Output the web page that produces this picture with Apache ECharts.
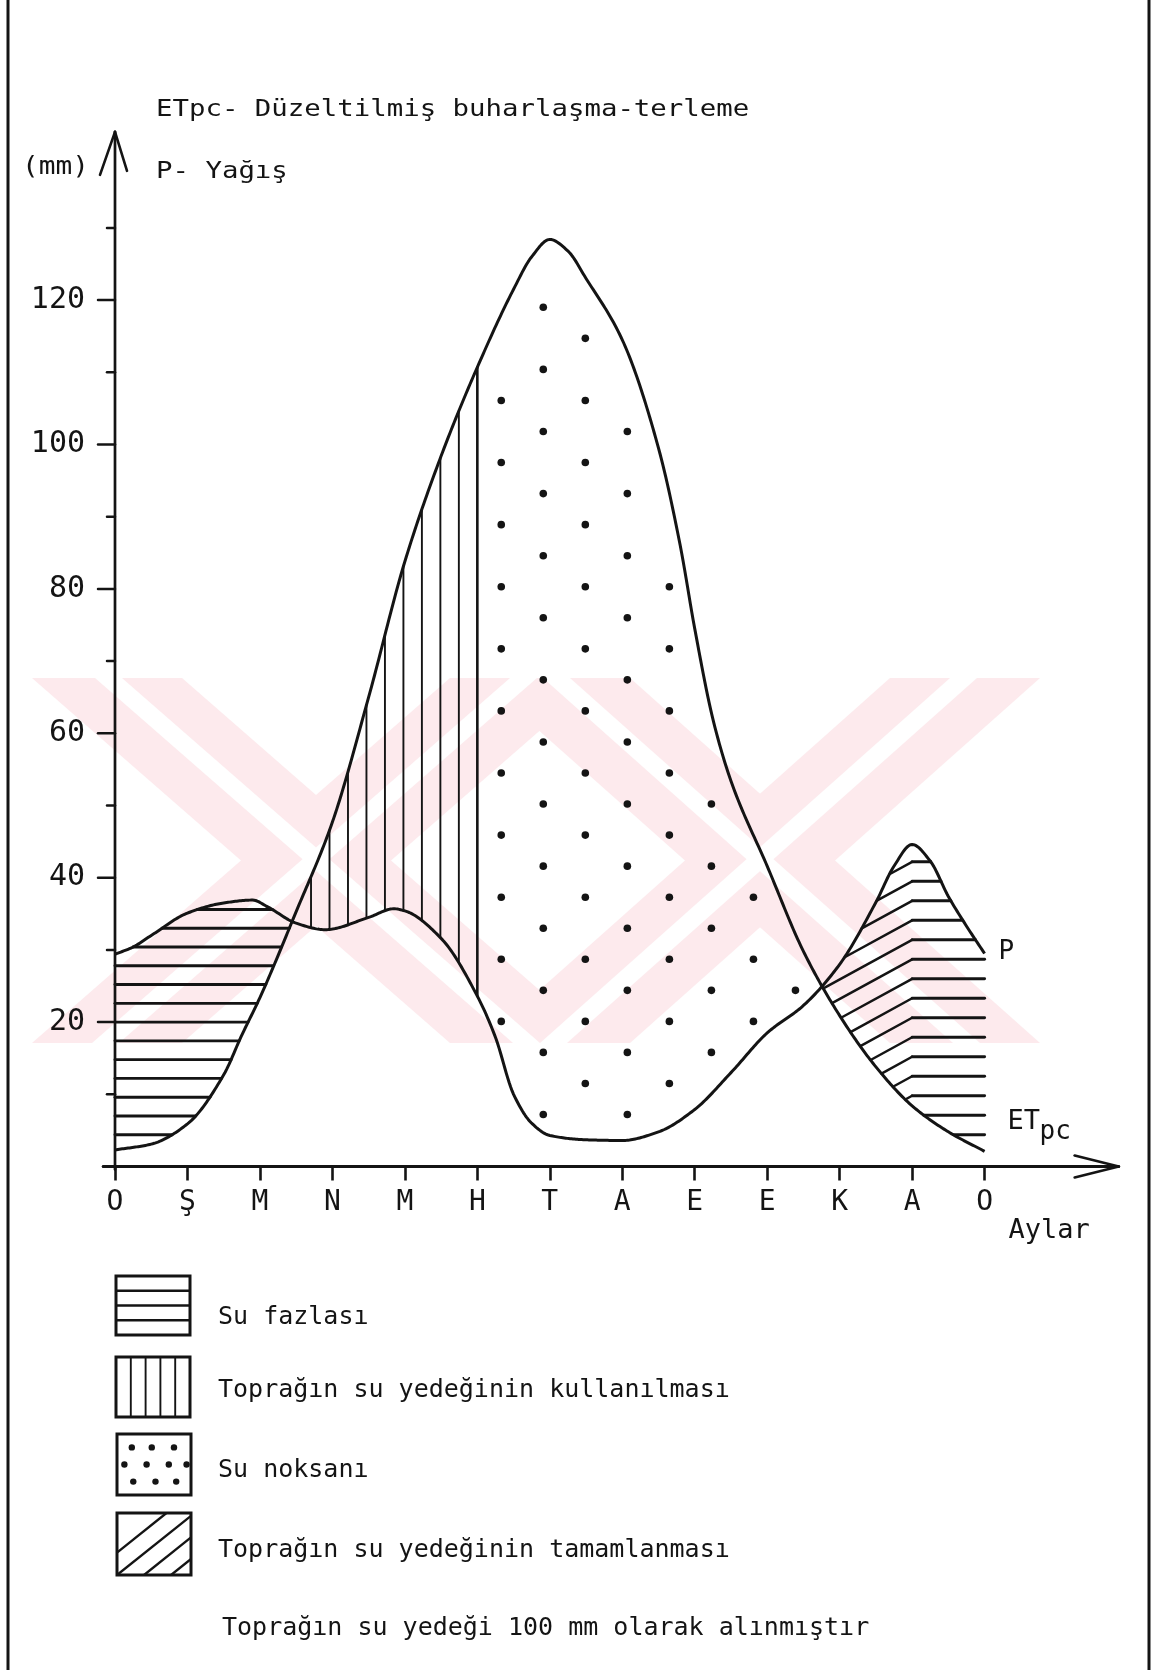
<!DOCTYPE html>
<html>
<head>
<meta charset="utf-8">
<script src="https://cdn.jsdelivr.net/npm/echarts@6/dist/echarts.min.js"></script>
<style>html,body{margin:0;padding:0;background:#fff}#c{width:1162px;height:1670px}</style>
</head>
<body>
<div id="c"></div>
<script>
// ---------------- DATA ----------------
const months = ['O','Ş','M','N','M','H','T','A','E','E','K','A','O'];
const yTickLabels = [20, 40, 60, 80, 100, 120];
// P - Yağış (precipitation), month position / mm
const pX = [0, 0.25, 0.5, 1, 1.5, 1.9, 2.1, 2.5, 2.9, 3.5, 3.85, 4, 4.5, 5, 5.25, 5.5, 5.75, 6, 6.5, 7, 7.5, 8, 8.5, 9, 9.5, 10, 10.5, 10.75, 11, 11.25, 11.5, 11.75, 12];
const pY = [29.4, 30.4, 32.0, 35.1, 36.5, 36.9, 36.0, 33.7, 32.8, 34.5, 35.7, 35.4, 31.6, 23.6, 17.9, 10.0, 6.0, 4.3, 3.7, 3.6, 4.8, 7.9, 13.0, 18.5, 22.3, 28.0, 36.6, 41.6, 44.6, 42.3, 37.4, 33.3, 29.5];
// ETpc - Düzeltilmiş buharlaşma-terleme
const eX = [0, 0.5, 1, 1.5, 1.75, 2, 2.5, 3, 3.5, 4, 4.5, 5, 5.5, 5.75, 6, 6.25, 6.5, 7, 7.5, 7.8, 8, 8.25, 8.5, 9, 9.5, 10, 10.5, 11, 11.5, 12];
const eY = [2.3, 3.1, 5.9, 12.7, 18.2, 23.4, 35.3, 47.7, 65.0, 83.8, 98.4, 110.7, 121.5, 126.0, 128.4, 126.8, 123.0, 114.5, 99.5, 86.0, 74.5, 62.0, 53.4, 41.6, 29.8, 20.9, 13.8, 8.4, 4.8, 2.1];
const legendItems = ['Su fazlası', 'Toprağın su yedeğinin kullanılması', 'Su noksanı', 'Toprağın su yedeğinin tamamlanması'];
const noteText = 'Toprağın su yedeği 100 mm olarak alınmıştır';

// ---------------- STYLE ----------------
const INK = '#141414';
const MONO = 'DejaVu Sans Mono';

// monotone cubic (rendering curve through the read points)
function monotone(xs, ys) {
  const n = xs.length, h = [], d = [], m = new Array(n);
  for (let i = 0; i < n - 1; i++) { h[i] = xs[i+1] - xs[i]; d[i] = (ys[i+1] - ys[i]) / h[i]; }
  m[0] = d[0]; m[n-1] = d[n-2];
  for (let i = 1; i < n - 1; i++) {
    if (d[i-1] * d[i] <= 0) m[i] = 0;
    else { const w1 = 2*h[i] + h[i-1], w2 = h[i] + 2*h[i-1]; m[i] = (w1 + w2) / (w1/d[i-1] + w2/d[i]); }
  }
  return function (x) {
    if (x <= xs[0]) return ys[0] + m[0]*(x - xs[0]);
    if (x >= xs[n-1]) return ys[n-1] + m[n-1]*(x - xs[n-1]);
    let i = 0; while (x > xs[i+1]) i++;
    const t = (x - xs[i]) / h[i], t2 = t*t, t3 = t2*t;
    return (2*t3 - 3*t2 + 1)*ys[i] + (t3 - 2*t2 + t)*h[i]*m[i] + (-2*t3 + 3*t2)*ys[i+1] + (t3 - t2)*h[i]*m[i+1];
  };
}
const P = monotone(pX, pY), E = monotone(eX, eY);
function bisect(f, a, b) {
  let fa = f(a);
  for (let i = 0; i < 60; i++) { const mm = (a + b)/2, fm = f(mm); if ((fm > 0) === (fa > 0)) { a = mm; fa = fm; } else b = mm; }
  return (a + b)/2;
}
const diff = x => P(x) - E(x);
const c1 = bisect(diff, 2.0, 3.0);
const c2 = bisect(diff, 9.0, 10.5);

function ranges(x0, x1, cond) {
  const out = []; let start = null; const step = 0.002; let x;
  for (x = x0; x <= x1 + 1e-9; x += step) {
    const ok = cond(x);
    if (ok && start === null) start = x;
    if (!ok && start !== null) { out.push([start, x - step]); start = null; }
  }
  if (start !== null) out.push([start, x1]);
  return out;
}

function renderAll(params, api) {
  const c = (x, y) => api.coord([x, y]);
  const kids = [];
  const line = (a, b, w) => kids.push({ type: 'line', shape: { x1: a[0], y1: a[1], x2: b[0], y2: b[1] },
    style: { stroke: INK, lineWidth: w, lineCap: 'round' } });
  const text = (t, x, y, size, extra) => kids.push({ type: 'text', style: Object.assign({ text: t, x: x, y: y,
    fontSize: size, fontFamily: MONO, fill: INK, align: 'left', verticalAlign: 'middle' }, extra || {}) });

  // surplus (left) - horizontal hatching
  for (let L = 4.4; L < 37; L += 2.6) {
    ranges(0, c1, x => E(x) <= L && L <= P(x)).forEach(r => { if (r[1] - r[0] > 0.01) line(c(r[0], L), c(r[1], L), 2.9); });
  }
  // recharge (diagonal) + surplus right (horizontal)
  const s = 5.5;
  for (let L = 4.4; L < 44.6; L += 2.7) {
    const g = x => L - s*(11 - x);
    ranges(c2, 11, x => E(x) <= g(x) && g(x) <= P(x)).forEach(r => { if (r[1] - r[0] > 0.01) line(c(r[0], g(r[0])), c(r[1], g(r[1])), 2.5); });
    ranges(11, 12, x => E(x) <= L && L <= P(x)).forEach(r => { if (r[1] - r[0] > 0.01) line(c(r[0], L), c(r[1], L), 2.9); });
  }
  // soil water use - vertical hatching
  for (let k = 0; k < 20; k++) {
    const x = 5 - 0.255*k; if (x <= c1) break;
    const lo = P(x), hi = E(x);
    if (hi - lo > 1) line(c(x, lo), c(x, hi), k === 0 ? 2.6 : 1.9);
  }
  // water deficit - dots
  for (let j = 0; j < 20; j++) {
    const x = 5.33 + 0.58*j; if (x >= c2) break;
    for (let i = -3; i < 16; i++) {
      const v = 20.1 + 8.6*i - (j % 2)*4.3;
      const ok = [x - 0.1, x, x + 0.1].every(t => v < E(t) - 1.5 && v > P(t) + 1.5);
      if (ok && x > 5.12) { const p = c(x, v); kids.push({ type: 'circle', shape: { cx: p[0], cy: p[1], r: 3.8 }, style: { fill: INK } }); }
    }
  }
  // curves
  const pts = f => { const a = []; for (let x = 0; x <= 12.0001; x += 0.02) a.push(c(x, f(x))); return a; };
  kids.push({ type: 'polyline', shape: { points: pts(P) }, style: { stroke: INK, lineWidth: 3, fill: 'none', lineJoin: 'round' } });
  kids.push({ type: 'polyline', shape: { points: pts(E) }, style: { stroke: INK, lineWidth: 3, fill: 'none', lineJoin: 'round' } });

  // axes lines with open arrows
  const ytip = c(0, 143.3);
  line(c(0, -0.4), ytip, 2.7);
  line(ytip, [ytip[0] - 15, ytip[1] + 43], 2.6);
  line(ytip, [ytip[0] + 12, ytip[1] + 39], 2.6);
  const xtip = c(13.85, 0);
  line(c(-0.16, 0), xtip, 3);
  line(xtip, [xtip[0] - 44, xtip[1] - 11], 2.6);
  line(xtip, [xtip[0] - 44, xtip[1] + 11], 2.6);
  // y ticks
  for (let v = 0; v <= 130; v += 10) {
    const len = v === 0 ? 12 : (v % 20 === 0 ? 17 : 8);
    const p = c(0, v);
    line([p[0] - len, p[1]], [p[0], p[1]], 2.5);
  }
  // curve end labels
  const pe = c(12, P(12));
  text('P', pe[0] + 14, pe[1] - 1, 26);
  const ee = c(12, E(12));
  text('ET', ee[0] + 23, ee[1] - 29, 27);
  text('pc', ee[0] + 55, ee[1] - 19, 26);
  const ae = c(12, 0);
  text('Aylar', ae[0] + 24, ae[1] + 64, 27);
  return { type: 'group', children: kids };
}

// ---------------- static graphics ----------------
const graphics = [];
// watermark (faint)
const WM = '#fdeaed';
function xShape(L, R, T, B, w) {
  graphics.push({ type: 'polygon', z: -10, shape: { points: [[L, T], [L + w, T], [R, B], [R - w, B]] }, style: { fill: WM } });
  graphics.push({ type: 'polygon', z: -10, shape: { points: [[R - w, T], [R, T], [L + w, B], [L, B]] }, style: { fill: WM } });
  graphics.push({ type: 'polygon', z: -9, shape: { points: [[L + w*0.42, T], [L + w*0.6, T], [R - w*0.4, B], [R - w*0.58, B]] }, style: { fill: '#fff' } });
  graphics.push({ type: 'polygon', z: -9, shape: { points: [[R - w*0.6, T], [R - w*0.42, T], [L + w*0.58, B], [L + w*0.4, B]] }, style: { fill: '#fff' } });
}
xShape(32, 600, 678, 1043, 150);
xShape(480, 1040, 678, 1043, 150);

// frame
graphics.push({ type: 'line', shape: { x1: 8, y1: 0, x2: 8, y2: 1670 }, style: { stroke: INK, lineWidth: 3 } });
graphics.push({ type: 'line', shape: { x1: 1149, y1: 0, x2: 1149, y2: 1670 }, style: { stroke: INK, lineWidth: 3 } });

function gtext(t, x, y, size, sx) {
  graphics.push({ type: 'text', x: x, y: y, scaleX: sx || 1, style: { text: t, fontSize: size, fontFamily: MONO, fill: INK, align: 'left', verticalAlign: 'middle' } });
}
gtext('ETpc- Düzeltilmiş buharlaşma-terleme', 156, 110, 23, 1.19);
gtext('P- Yağış', 156, 172, 23, 1.19);
gtext('(mm)', 22, 168, 24, 1.16);

// legend
const boxes = [[116, 1276, 74, 59], [116, 1357, 74, 60], [117, 1434, 74, 61], [117, 1513, 74, 62]];
const textY = [1317, 1390, 1470, 1550];
function gline(x1, y1, x2, y2, w) { graphics.push({ type: 'line', shape: { x1, y1, x2, y2 }, style: { stroke: INK, lineWidth: w } }); }
boxes.forEach((b, i) => {
  const [bx, by, bw, bh] = b;
  if (i === 0) { for (let k = 1; k < 4; k++) gline(bx, by + bh*k/4, bx + bw, by + bh*k/4, 2.6); }
  if (i === 1) { for (let k = 1; k < 5; k++) gline(bx + bw*k/5, by, bx + bw*k/5, by + bh, 1.9); }
  if (i === 2) {
    const rows = [[0.2, 0.47, 0.77], [0.1, 0.4, 0.7, 0.94], [0.22, 0.52, 0.8]];
    rows.forEach((r, ri) => r.forEach(fx => graphics.push({ type: 'circle', shape: { cx: bx + bw*fx, cy: by + bh*(0.22 + 0.28*ri), r: 3.2 }, style: { fill: INK } })));
  }
  if (i === 3) {
    const k = 0.8;
    [ -28, 0, 27, 54 ].forEach(off => {
      let x1 = bx + off, y1 = by + bh;
      if (x1 < bx) { y1 = by + bh - (bx - x1)*k; x1 = bx; }
      let x2 = x1 + (y1 - by)/k, y2 = by;
      if (x2 > bx + bw) { y2 = y1 - (bx + bw - x1)*k; x2 = bx + bw; }
      gline(x1, y1, x2, y2, 2.3);
    });
  }
  graphics.push({ type: 'rect', shape: { x: bx, y: by, width: bw, height: bh }, style: { fill: 'none', stroke: INK, lineWidth: 3 } });
  gtext(legendItems[i], 218, textY[i], 25);
});
gtext(noteText, 222, 1628, 25);

// ---------------- chart ----------------
const chart = echarts.init(document.getElementById('c'), null, { renderer: 'canvas' });
chart.setOption({
  animation: false,
  backgroundColor: '#ffffff',
  grid: { left: 115, right: 177.4, top: 155.7, bottom: 503.5 },
  xAxis: {
    type: 'value', min: 0, max: 12, interval: 1,
    axisLine: { show: false }, splitLine: { show: false },
    axisTick: { show: true, length: 14, lineStyle: { color: INK, width: 2.6 } },
    axisLabel: { formatter: v => months[v] || '', fontFamily: MONO, fontSize: 28, color: INK, margin: 22, showMinLabel: true, showMaxLabel: true }
  },
  yAxis: {
    type: 'value', min: 0, max: 140, interval: 20, z: 3,
    axisLine: { show: false }, axisTick: { show: false }, splitLine: { show: false },
    axisLabel: {
      margin: 30, fontFamily: MONO, fontSize: 30, color: INK,
      formatter: v => yTickLabels.indexOf(v) >= 0 ? String(v) : ''
    }
  },
  graphic: { elements: graphics },
  series: [{ type: 'custom', z: 5, renderItem: renderAll, data: [[0, 0]], clip: false, silent: true }]
});
</script>
</body>
</html>
